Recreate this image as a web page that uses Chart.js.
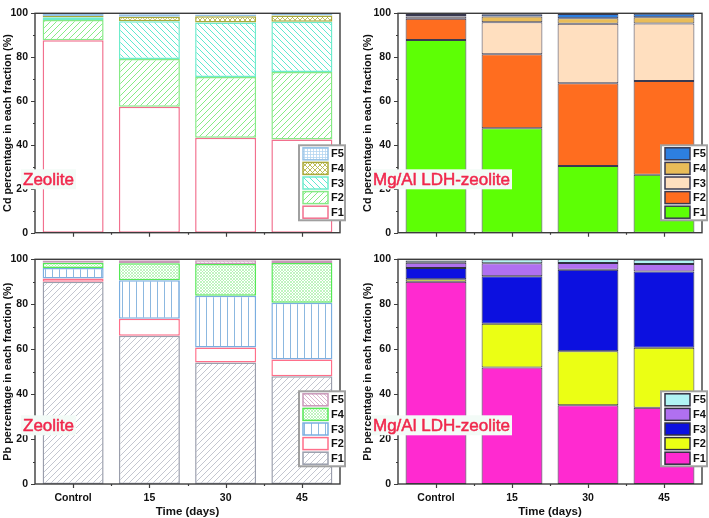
<!DOCTYPE html>
<html>
<head>
<meta charset="utf-8">
<script src="https://cdn.jsdelivr.net/npm/chart.js@4.4.1/dist/chart.umd.min.js"></script>
<style>
  body { margin: 0; background: #fff; }
  #wrap { position: relative; width: 709px; height: 518px; }
  canvas { position: absolute; }
</style>
</head>
<body>
<div id="wrap">
  <canvas id="cdZeo" width="350" height="246" style="left:0;top:0"></canvas>
  <canvas id="cdLdh" width="359" height="246" style="left:350px;top:0"></canvas>
  <canvas id="pbZeo" width="350" height="272" style="left:0;top:246px"></canvas>
  <canvas id="pbLdh" width="359" height="272" style="left:350px;top:246px"></canvas>
</div>
<script>
const categories = ["Control", "15", "30", "45"];
const fractions = ["F1", "F2", "F3", "F4", "F5"];

// Cd, zeolite (F1..F5, one row per fraction)
const cdZeolite = [
    [87.7, 57.4, 43.3, 42.5],
    [9.2, 21.8, 27.7, 30.8],
    [1.3, 17.2, 24.8, 22.8],
    [0.6, 2.0, 2.9, 2.9],
    [0.9, 1.2, 0.8, 1.0]
];

// Cd, Mg/Al LDH-zeolite
const cdLdh = [
    [87.8, 47.6, 30.4, 26.4],
    [9.7, 33.7, 37.7, 42.8],
    [1.0, 14.6, 27.1, 26.1],
    [0.7, 2.6, 2.6, 2.9],
    [0.8, 1.1, 1.9, 1.6]
];

// Pb, zeolite
const pbZeolite = [
    [90.0, 66.0, 54.1, 47.9],
    [1.4, 7.5, 6.7, 7.5],
    [4.7, 17.2, 23.0, 25.3],
    [2.4, 7.5, 14.1, 17.6],
    [1.0, 1.4, 1.7, 1.3]
];

// Pb, Mg/Al LDH-zeolite
const pbLdh = [
    [90.0, 51.9, 35.0, 33.9],
    [1.1, 19.4, 24.1, 26.7],
    [5.0, 21.2, 36.2, 34.0],
    [2.4, 5.7, 3.0, 3.3],
    [1.0, 1.7, 1.7, 1.9]
];

const yTicks = [0, 20, 40, 60, 80, 100];

const FONT = "'Liberation Sans', Arial, sans-serif";

/* ---------------- PATTERNS ---------------- */

function hatch(fg, kind, s, lw) {
    const c = document.createElement("canvas");
    c.width = s;
    c.height = s;
    const x = c.getContext("2d");
    x.fillStyle = "#fff";
    x.fillRect(0, 0, s, s);
    x.strokeStyle = fg;
    x.lineWidth = lw || 1;
    x.beginPath();
    if (kind.includes("/")) {
        x.moveTo(-1, s + 1); x.lineTo(s + 1, -1);
        x.moveTo(-2, 2); x.lineTo(2, -2);
        x.moveTo(s - 2, s + 2); x.lineTo(s + 2, s - 2);
    }
    if (kind.includes("\\")) {
        x.moveTo(-1, -1); x.lineTo(s + 1, s + 1);
        x.moveTo(s - 2, -2); x.lineTo(s + 2, 2);
        x.moveTo(-2, s - 2); x.lineTo(2, s + 2);
    }
    if (kind.includes("|")) {
        x.moveTo(s / 2, 0); x.lineTo(s / 2, s);
    }
    if (kind.includes("-")) {
        x.moveTo(0, s / 2); x.lineTo(s, s / 2);
    }
    x.stroke();
    return x.createPattern(c, "repeat");
}

const cdZeoStyle = [
    { bg: "#ffffff", border: "#f2708e" },
    { bg: hatch("#86ec86", "/", 6, 1), border: "#86ea86" },
    { bg: hatch("#5eead0", "\\", 6, 1), border: "#6eeccc" },
    { bg: hatch("#b8b848", "/\\", 5, 0.9), border: "#aaaa3a" },
    { bg: hatch("#b4d6f0", "|-", 3, 0.8), border: "#96c2e6" }
];

const cdLdhStyle = [
    { bg: "#5dff05", border: "#3a3a50" },
    { bg: "#ff6d1f", border: "#3a3a50" },
    { bg: "#ffdfbf", border: "#3a3a50" },
    { bg: "#e9bc58", border: "#3a3a50" },
    { bg: "#2d7fe0", border: "#3a3a50" }
];

const pbZeoStyle = [
    { bg: hatch("#b4b8c4", "/", 6, 0.8), border: "#9a9eac" },
    { bg: "#ffffff", border: "#ff6f8a" },
    { bg: hatch("#8cb8e0", "|", 7, 1), border: "#7aaee0" },
    { bg: hatch("#a6f0a6", "/\\", 3, 0.7), border: "#55e855" },
    { bg: hatch("#d4a4c4", "\\", 4, 0.8), border: "#c898b8" }
];

const pbLdhStyle = [
    { bg: "#ff2ad0", border: "#303040" },
    { bg: "#ebff14", border: "#303040" },
    { bg: "#0c10e0", border: "#303040" },
    { bg: "#b070f0", border: "#303040" },
    { bg: "#b0f4f4", border: "#303040" }
];

/* ---------------- DECORATION PLUGIN ---------------- */

const panelPlugin = {
    id: "panel",
    afterDraw(chart, args, o) {
        const ctx = chart.ctx;
        const a = chart.chartArea;
        const ys = chart.scales.y;
        const xs = chart.scales.x;
        ctx.save();

        // frame
        ctx.strokeStyle = "#3c3c3c";
        ctx.lineWidth = 1.4;
        ctx.strokeRect(a.left, a.top, a.right - a.left, a.bottom - a.top);

        // y ticks, major and minor
        ctx.lineWidth = 1.2;
        ctx.beginPath();
        for (let v = 0; v <= 100; v += 10) {
            const y = Math.round(ys.getPixelForValue(v)) + 0.5;
            const len = v % 20 === 0 ? 4 : 2;
            ctx.moveTo(a.left - len, y);
            ctx.lineTo(a.left, y);
        }
        // x ticks at categories and boundaries
        const step = (a.right - a.left) / categories.length;
        for (let i = 0; i < categories.length; i++) {
            const cx = Math.round(xs.getPixelForValue(i)) + 0.5;
            ctx.moveTo(cx, a.bottom);
            ctx.lineTo(cx, a.bottom + 4);
            if (i > 0) {
                const bx = Math.round(a.left + step * i) + 0.5;
                ctx.moveTo(bx, a.bottom);
                ctx.lineTo(bx, a.bottom + 2);
            }
        }
        ctx.stroke();

        // y title, sized to span the same length as the original
        const title = o.metal + " percentage in each fraction (%)";
        ctx.font = "bold 10px " + FONT;
        const fs = 10 * 178 / ctx.measureText(title).width;
        ctx.font = "bold " + fs.toFixed(2) + "px " + FONT;
        ctx.fillStyle = "#111";
        ctx.textAlign = "center";
        ctx.textBaseline = "middle";
        ctx.translate(o.titleX, (a.top + a.bottom) / 2);
        ctx.rotate(-Math.PI / 2);
        ctx.fillText(title, 0, 0);
        ctx.setTransform(1, 0, 0, 1, 0, 0);

        // x title
        if (o.showX) {
            ctx.font = "bold 11.5px " + FONT;
            ctx.fillText("Time (days)", (a.left + a.right) / 2, chart.height - 6);
        }

        // material label
        ctx.font = "17px " + FONT;
        ctx.textAlign = "left";
        const w = ctx.measureText(o.label).width;
        const ly = a.top + 166;
        ctx.fillStyle = "#f3fbf7";
        ctx.fillRect(21, ly - 10, w + 4, 20);
        ctx.fillStyle = "#f0284c";
        ctx.strokeStyle = "#f0284c";
        ctx.lineWidth = 0.5;
        ctx.fillText(o.label, 23, ly + 1);
        ctx.strokeText(o.label, 23, ly + 1);

        // legend
        const lx = a.right - 41;
        const lt = a.top + 132;
        ctx.fillStyle = "#fff";
        ctx.fillRect(lx, lt, 46, 75);
        ctx.strokeStyle = "#a0a0a0";
        ctx.lineWidth = 2;
        ctx.strokeRect(lx, lt, 46, 75);
        ctx.font = "bold 11px " + FONT;
        ctx.textBaseline = "middle";
        for (let r = 0; r < 5; r++) {
            const k = 4 - r;
            const cy = lt + 8.5 + r * 14.6;
            const st = o.styles[k];
            ctx.fillStyle = st.bg;
            ctx.fillRect(lx + 4, cy - 6, 25, 12);
            ctx.strokeStyle = st.border;
            ctx.lineWidth = 1.5;
            ctx.strokeRect(lx + 4, cy - 6, 25, 12);
            ctx.fillStyle = "#111";
            ctx.fillText(fractions[k], lx + 32, cy + 0.5);
        }
        ctx.restore();
    }
};

/* ---------------- CHARTS ---------------- */

function makePanel(id, rows, styles, opts) {
    const datasets = rows.map((vals, k) => ({
        label: fractions[k],
        data: vals,
        backgroundColor: styles[k].bg,
        borderColor: styles[k].border,
        borderWidth: opts.solid ? 1 : 1.5,
        borderSkipped: false,
        barPercentage: 0.8,
        categoryPercentage: 1
    }));

    return new Chart(document.getElementById(id), {
        type: "bar",
        data: { labels: categories, datasets },
        plugins: [panelPlugin],
        options: {
            responsive: false,
            animation: false,
            layout: {
                padding: { top: opts.top, right: opts.right, left: 0, bottom: 0 }
            },
            plugins: {
                legend: { display: false },
                tooltip: { enabled: false },
                panel: {
                    metal: opts.metal,
                    label: opts.label,
                    titleX: opts.titleX,
                    showX: opts.showX,
                    styles
                }
            },
            scales: {
                x: {
                    stacked: true,
                    grid: { display: false, drawTicks: false },
                    border: { display: false },
                    ticks: {
                        display: opts.showX,
                        color: "#111",
                        padding: 8,
                        font: { family: FONT, weight: "bold", size: 10.5 }
                    },
                    afterFit(scale) { scale.height = opts.xh; }
                },
                y: {
                    stacked: true,
                    min: 0,
                    max: 100,
                    afterBuildTicks(scale) {
                        scale.ticks = yTicks.map(v => ({ value: v }));
                    },
                    grid: { display: false, drawTicks: false },
                    border: { display: false },
                    ticks: {
                        color: "#111",
                        padding: 7,
                        font: { family: FONT, weight: "bold", size: 10.5 }
                    },
                    afterFit(scale) { scale.width = opts.yw; }
                }
            }
        }
    });
}

makePanel("cdZeo", cdZeolite, cdZeoStyle,
    { metal: "Cd", label: "Zeolite", top: 5, right: 10, yw: 35, xh: 9, titleX: 8, showX: false });
makePanel("cdLdh", cdLdh, cdLdhStyle,
    { metal: "Cd", label: "Mg/Al LDH-zeolite", top: 5, right: 7, yw: 48, xh: 9, titleX: 18, showX: false, solid: true });
makePanel("pbZeo", pbZeolite, pbZeoStyle,
    { metal: "Pb", label: "Zeolite", top: 5.7, right: 10, yw: 35, xh: 34, titleX: 8, showX: true });
makePanel("pbLdh", pbLdh, pbLdhStyle,
    { metal: "Pb", label: "Mg/Al LDH-zeolite", top: 5.7, right: 7, yw: 48, xh: 34, titleX: 18, showX: true, solid: true });
</script>
</body>
</html>
